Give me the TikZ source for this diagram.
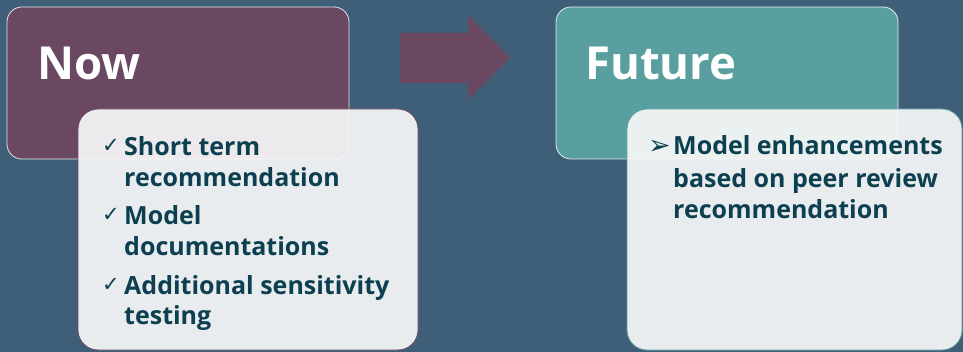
\documentclass[tikz,border=0pt]{standalone}
\usepackage{fontspec}
\newfontfamily\bodyfont{Open Sans}
\newfontfamily\symfont{DejaVu Sans}
\definecolor{bgc}{HTML}{3E5F77}
\definecolor{nowc}{HTML}{6B4861}
\definecolor{futc}{HTML}{5A9F9F}
\definecolor{subc}{HTML}{F8F8F9}
\definecolor{txtc}{HTML}{0C3F50}
\begin{document}
\begin{tikzpicture}[x=1pt,y=-1pt,
  mainbox/.style={rectangle,rounded corners=15pt,draw=white,draw opacity=0.85,line width=0.8pt,anchor=north west,inner sep=0pt,outer sep=0pt,minimum width=342pt,minimum height=152pt},
  subbox/.style={rectangle,rounded corners=20pt,fill=subc,fill opacity=0.92,line width=0.8pt,anchor=north west,inner sep=0pt,outer sep=0pt,minimum width=340pt,minimum height=241pt},
  title/.style={anchor=base west,inner sep=0pt,text=white,font=\bodyfont\bfseries\fontsize{45.5}{50}\selectfont},
  itemline/.style={anchor=base west,inner sep=0pt,text=txtc,font=\bodyfont\bfseries\fontsize{25}{30}\selectfont},
  bulletmark/.style={anchor=base west,inner sep=0pt,text=txtc,font=\symfont\fontsize{21}{24}\selectfont}]
\fill[bgc] (0,0) rectangle (963,352);
\useasboundingbox (0,0) rectangle (963,352);
% main boxes
\node[mainbox,fill=nowc] (now) at (7,7) {};
\node[mainbox,fill=futc] (fut) at (556,7) {};
% arrow
\fill[nowc] (400,33) -- (468,33) -- (468,15) -- (510,57.5) -- (468,100) -- (468,83) -- (400,83) -- cycle;
% sub boxes
\node[subbox,draw=nowc] (nowsub) at (78,109) {};
\node[subbox,draw=futc,minimum width=335pt] (futsub) at (627,109) {};
% titles
\node[title] (nowt) at (37,80) {Now};
\node[title] (futt) at (585,80) {Future};
% now items
\node[bulletmark] (c1) at (102,153) {✓};
\node[itemline] (l1) at (124,156) {Short term};
\node[itemline] (l2) at (124,187) {recommendation};
\node[bulletmark] (c2) at (102,222) {✓};
\node[itemline] (l3) at (124,225) {Model};
\node[itemline] (l4) at (124,256) {documentations};
\node[bulletmark] (c3) at (102,292) {✓};
\node[itemline] (l5) at (124,295) {Additional sensitivity};
\node[itemline] (l6) at (124,325) {testing};
% future items
\node[bulletmark,anchor=west,font=\symfont\fontsize{27}{30}\selectfont] (a1) at (648,147) {➢};
\node[itemline] (f1) at (673,155) {Model enhancements};
\node[itemline] (f2) at (673,188) {based on peer review};
\node[itemline] (f3) at (673,219) {recommendation};
\end{tikzpicture}
\end{document}
